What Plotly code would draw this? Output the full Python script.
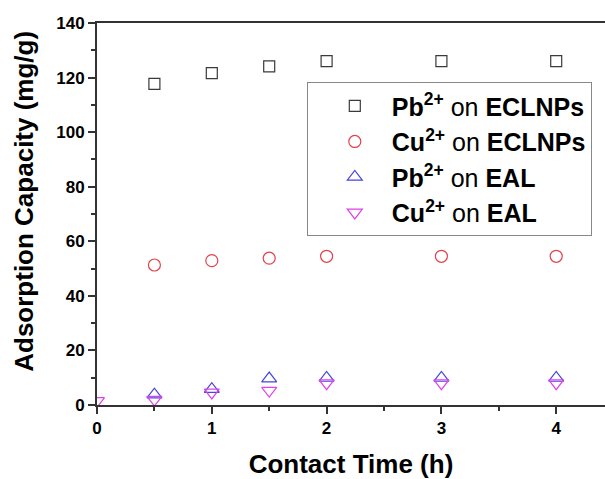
import plotly.graph_objects as go

time_h = [0, 0.5, 1, 1.5, 2, 3, 4]
time_h_ecl = [0.5, 1, 1.5, 2, 3, 4]
pb_ecl = [117.7, 121.6, 124.1, 126.0, 126.0, 126.0]
cu_ecl = [51.3, 52.9, 53.8, 54.5, 54.5, 54.5]
pb_eal = [3.8, 5.8, 9.7, 9.9, 9.9, 9.9]
cu_eal = [1.5, 2.0, 4.6, 5.3, 8.0, 8.0, 8.0]

names = ["<b>Pb<sup>2+</sup></b> on <b>ECLNPs</b>",
         "<b>Cu<sup>2+</sup></b> on <b>ECLNPs</b>",
         "<b>Pb<sup>2+</sup></b> on <b>EAL</b>",
         "<b>Cu<sup>2+</sup></b> on <b>EAL</b>"]
series_x = [time_h_ecl, time_h_ecl, time_h_ecl, time_h]
series = [pb_ecl, cu_ecl, pb_eal, cu_eal]
symbols = ["square-open", "circle-open", "triangle-up-open", "triangle-down-open"]
colors = ["#3a3a3a", "#e0434c", "#4545dd", "#e040ea"]
sizes = [11, 12, 13, 13]

fig = go.Figure()
for i in range(4):
    fig.add_trace(go.Scatter(
        x=series_x[i], y=series[i], mode="markers", name=names[i],
        legendgroup=str(i),
        marker=dict(symbol=symbols[i], color=colors[i], size=sizes[i],
                    line=dict(width=1.2, color=colors[i])),
        cliponaxis=True,
    ))

font_fam = "Liberation Sans, Arial, sans-serif"
fig.update_layout(
    width=605, height=479,
    margin=dict(l=97, r=0, t=23, b=74),
    paper_bgcolor="white", plot_bgcolor="white",
    font=dict(family=font_fam, color="black"),
    showlegend=True,
    legend=dict(x=0.413, y=0.845, xanchor="left", yanchor="top",
                bordercolor="#888888", borderwidth=1,
                font=dict(size=25, family=font_fam, color="black"),
                tracegroupgap=0, itemwidth=64, indentation=10,
                bgcolor="white"),
    annotations=[dict(text="<b>Adsorption Capacity (mg/g)</b>", textangle=-90,
                      xref="paper", yref="paper", x=-0.1437, y=0.532,
                      xanchor="center", yanchor="middle", showarrow=False,
                      font=dict(size=26, family=font_fam, color="black"))],
)
fig.update_xaxes(
    range=[0, 4.425], showgrid=False, zeroline=False,
    showline=True, linecolor="#333333", linewidth=2, mirror=True,
    ticks="outside", ticklen=7, tickwidth=1.5, tickcolor="#333333",
    tickvals=[0, 1, 2, 3, 4],
    tickfont=dict(size=17, family=font_fam, color="black", weight="bold"),
    minor=dict(ticks="outside", ticklen=4, tickwidth=1.5, tickcolor="#333333",
               tickvals=[0.5, 1.5, 2.5, 3.5]),
    title=dict(text="<b>Contact Time (h)</b>", font=dict(size=26, family=font_fam, color="black"), standoff=19),
)
fig.update_yaxes(
    range=[0, 140], showgrid=False, zeroline=False,
    showline=True, linecolor="#333333", linewidth=2, mirror=False,
    ticks="outside", ticklen=7, tickwidth=1.5, tickcolor="#333333",
    tickvals=[0, 20, 40, 60, 80, 100, 120, 140],
    tickfont=dict(size=17, family=font_fam, color="black", weight="bold"),
    minor=dict(ticks="outside", ticklen=4, tickwidth=1.5, tickcolor="#333333",
               tickvals=[10, 30, 50, 70, 90, 110, 130]),
)

fig.write_html("out.html")
